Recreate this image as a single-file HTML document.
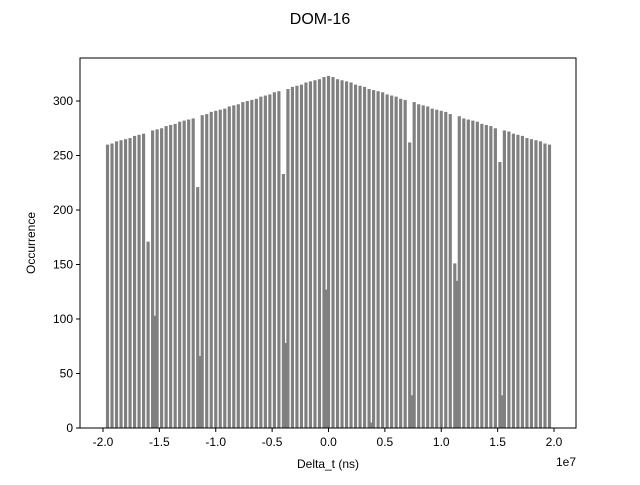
<!DOCTYPE html>
<html><head><meta charset="utf-8"><style>
body{margin:0;background:#fff;font-family:"Liberation Sans","DejaVu Sans",sans-serif}
svg text{font-family:"Liberation Sans","DejaVu Sans",sans-serif;fill:#000}
</style></head><body>
<svg id="chart" width="640" height="480" viewBox="0 0 640 480" xmlns="http://www.w3.org/2000/svg">
<text x="320" y="24" font-size="16" text-anchor="middle">DOM-16</text>
<g id="bars"></g>
<rect x="80" y="58" width="496" height="370" fill="none" stroke="#000" stroke-width="1"/>
<g id="xticks"></g>
<g id="yticks"></g>
<text x="576" y="466" font-size="12" text-anchor="end">1e7</text>
<text x="328" y="468" font-size="12" text-anchor="middle">Delta_t (ns)</text>
<text x="35" y="243" font-size="12" text-anchor="middle" transform="rotate(-90 35 243)">Occurrence</text>
</svg>
<script>
const binIndex = [];
for (let k = -49; k <= 49; k++) binIndex.push(k);
const binValues = [260,261,263,264,265,266,268,269,270,171,273,274,275,277,278,279,281,282,283,284,221,287,288,290,291,292,293,295,296,297,299,300,301,302,304,305,306,308,309,233,311,313,314,315,317,318,319,320,322,323,322,320,319,318,317,315,314,313,311,310,309,308,306,305,304,302,301,262,299,297,296,295,293,292,291,290,288,151,286,284,283,282,281,279,278,277,275,244,273,272,270,269,268,266,265,264,263,261,260];
const dipCenters = [-15400000,-11400000,-3800000,-200000,3800000,7400000,11400000,15400000];
const dipValues = [103,66,78,127,5,30,135,30];
const xTicks = [-2.0,-1.5,-1.0,-0.5,0.0,0.5,1.0,1.5,2.0];
const yTicks = [0,50,100,150,200,250,300];

const NS = "http://www.w3.org/2000/svg";
const BIN = 400000;
const x = v => 328.5 + v * (112.75 / 1e7);
const y = v => 428 - v * (327 / 300);
const barsG = document.getElementById('bars');
binIndex.forEach((k, i) => {
  const c = k * BIN;
  const r = document.createElementNS(NS, 'rect');
  const x0 = x(c - 140000), x1 = x(c + 140000);
  r.setAttribute('x', x0); r.setAttribute('width', x1 - x0);
  r.setAttribute('y', y(binValues[i])); r.setAttribute('height', y(0) - y(binValues[i]));
  r.setAttribute('fill', '#808080');
  
  
  barsG.appendChild(r);
});
dipCenters.forEach((c, i) => {
  const r = document.createElementNS(NS, 'rect');
  const x0 = x(c - 90000), x1 = x(c + 90000);
  r.setAttribute('x', x0); r.setAttribute('width', x1 - x0);
  r.setAttribute('y', y(dipValues[i])); r.setAttribute('height', y(0) - y(dipValues[i]));
  r.setAttribute('fill', '#808080');
  
  
  barsG.appendChild(r);
});
const xg = document.getElementById('xticks');
xTicks.forEach(t => {
  const px = x(t * 1e7);
  const l = document.createElementNS(NS, 'line');
  l.setAttribute('x1', px); l.setAttribute('x2', px); l.setAttribute('y1', 428); l.setAttribute('y2', 432);
  l.setAttribute('stroke', '#000');
  
  
  xg.appendChild(l);
  const tx = document.createElementNS(NS, 'text');
  tx.setAttribute('x', px); tx.setAttribute('y', 446); tx.setAttribute('font-size', '12'); tx.setAttribute('text-anchor', 'middle');
  tx.textContent = t.toFixed(1);
  
  
  xg.appendChild(tx);
});
const yg = document.getElementById('yticks');
yTicks.forEach(t => {
  const py = y(t);
  const l = document.createElementNS(NS, 'line');
  l.setAttribute('x1', 76); l.setAttribute('x2', 80); l.setAttribute('y1', py); l.setAttribute('y2', py);
  l.setAttribute('stroke', '#000');
  
  
  yg.appendChild(l);
  const tx = document.createElementNS(NS, 'text');
  tx.setAttribute('x', 73); tx.setAttribute('y', py + 4); tx.setAttribute('font-size', '12'); tx.setAttribute('text-anchor', 'end');
  tx.textContent = t;
  
  
  yg.appendChild(tx);
});
</script>
</body></html>
